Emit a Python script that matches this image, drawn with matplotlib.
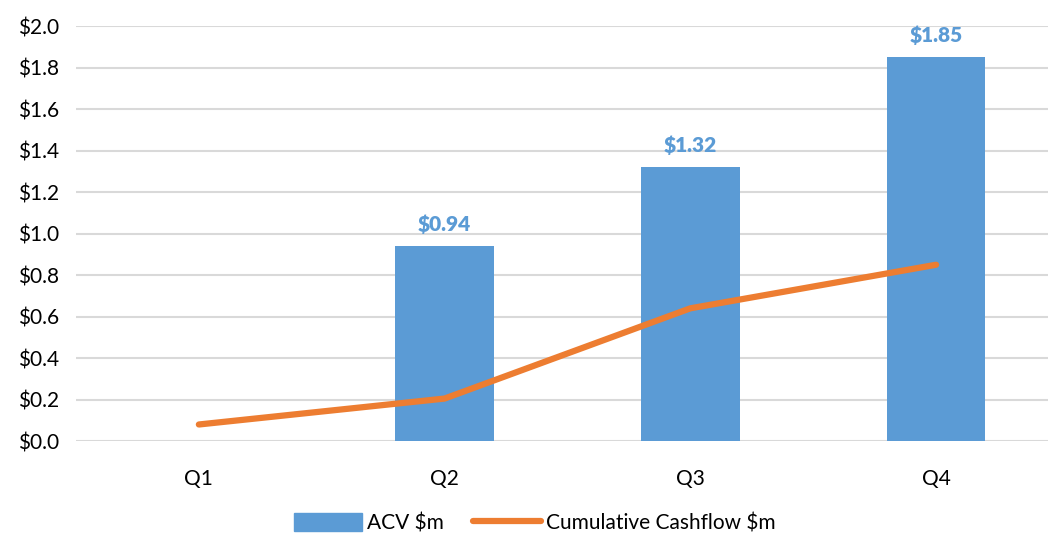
import numpy as np
import matplotlib.pyplot as plt
from matplotlib.lines import Line2D
from matplotlib.patches import Patch

quarters = ["Q1", "Q2", "Q3", "Q4"]
acv = [0.0, 0.94, 1.32, 1.85]
cashflow = [0.08, 0.205, 0.64, 0.85]
yticks = [0.0, 0.2, 0.4, 0.6, 0.8, 1.0, 1.2, 1.4, 1.6, 1.8, 2.0]

BLUE = "#5B9BD5"
ORANGE = "#ED7D31"
GRID = "#D9D9D9"

plt.rcParams["font.family"] = ["Lato", "DejaVu Sans"]

fig = plt.figure(figsize=(10.48, 5.34), dpi=100)
ax = fig.add_axes([0.0725, 0.174, 0.938, 0.777])

x = np.arange(len(quarters))
ax.bar(x, acv, width=0.40, color=BLUE, zorder=2)
ax.plot(x, cashflow, color=ORANGE, lw=4.5, solid_capstyle="round", zorder=3)

# value labels over the non-zero bars
for xi, v in zip(x, acv):
    if v > 0:
        ax.text(xi, v + 0.06, f"${v:.2f}", ha="center", va="bottom",
                fontsize=15, fontweight="heavy", color=BLUE)

ax.set_xlim(-0.5, 3.5)
ax.set_ylim(0, 2.0)
ax.set_yticks(yticks)
ax.set_yticklabels([f"${t:.1f}" for t in yticks])
ax.set_xticks(x)
ax.set_xticklabels(quarters)
ax.tick_params(axis="both", length=0, labelsize=15, colors="#000000")
ax.tick_params(axis="y", pad=12)
ax.tick_params(axis="x", pad=20)
ax.yaxis.grid(True, color=GRID, lw=1.5, zorder=0)
ax.set_axisbelow(True)
for s in ax.spines.values():
    s.set_visible(False)

handles = [Patch(color=BLUE, label="ACV $m"),
           Line2D([0], [0], color=ORANGE, lw=4.5, solid_capstyle="round",
                  label="Cumulative Cashflow $m")]
fig.legend(handles=handles, loc="center", bbox_to_anchor=(0.51, 0.02),
           ncol=2, frameon=False, fontsize=15, handlelength=3.3,
           handleheight=0.9, handletextpad=0.2, columnspacing=1.4)

fig.savefig("out.png", dpi=100)
